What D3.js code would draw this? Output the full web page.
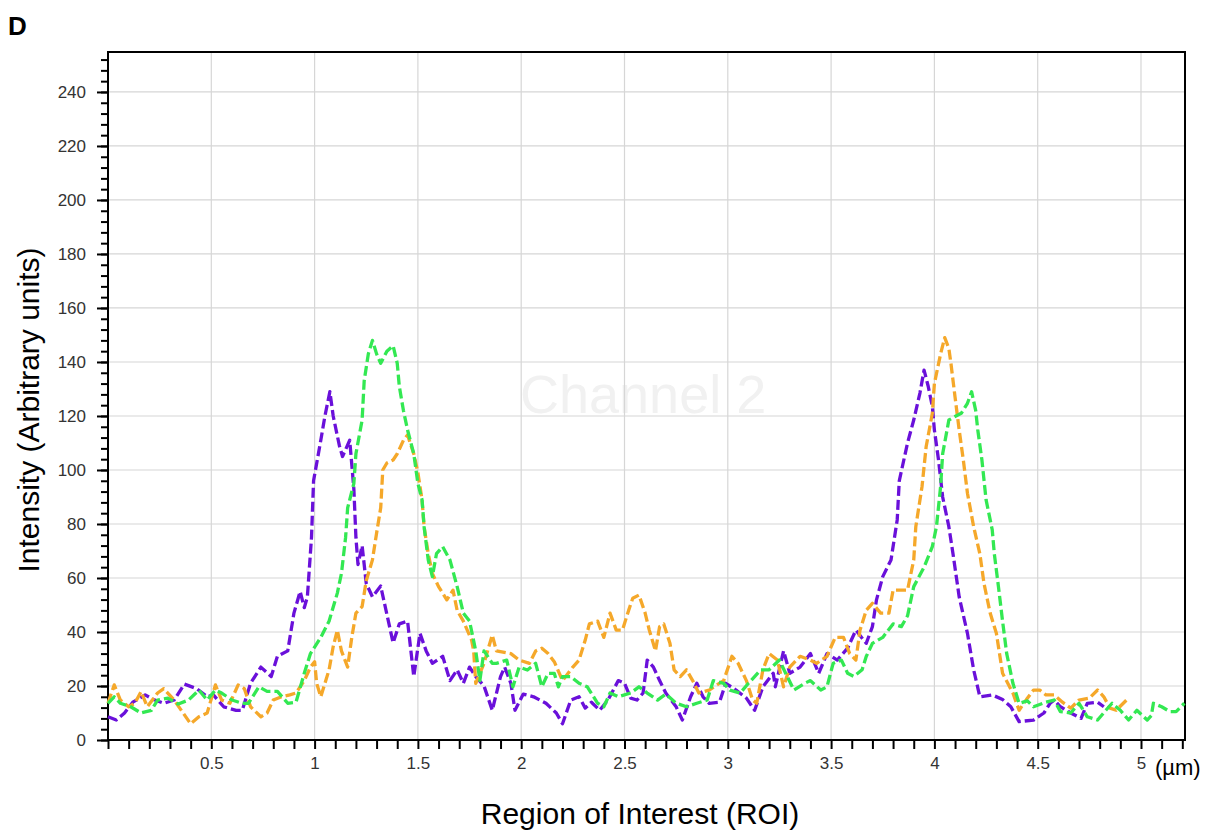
<!DOCTYPE html>
<html>
<head>
<meta charset="utf-8">
<script src="https://cdn.jsdelivr.net/npm/d3@7"></script>
<style>
  body { margin: 0; background: #fff; }
  svg { display: block; }
  .tick-label text { font-size: 17px; fill: #333; font-family: Arial, 'Liberation Sans', sans-serif; }
</style>
</head>
<body>
<svg id="viz"></svg>
<script>
// --- Data (x in µm, y in arbitrary intensity units) ---
const xMajorTicks = [0.5, 1, 1.5, 2, 2.5, 3, 3.5, 4, 4.5, 5];
const yMajorTicks = [0, 20, 40, 60, 80, 100, 120, 140, 160, 180, 200, 220, 240];

const purpleX = [0, 0.04, 0.08, 0.12, 0.18, 0.22, 0.27, 0.32, 0.37, 0.43, 0.48, 0.51, 0.56, 0.62, 0.65, 0.69, 0.74, 0.79, 0.82, 0.87, 0.9, 0.93, 0.95, 0.965, 0.985, 0.995, 1.03, 1.05, 1.074, 1.09, 1.12, 1.135, 1.17, 1.19, 1.2, 1.21, 1.23, 1.25, 1.28, 1.32, 1.36, 1.38, 1.41, 1.45, 1.48, 1.51, 1.54, 1.57, 1.62, 1.655, 1.69, 1.72, 1.75, 1.78, 1.82, 1.86, 1.9, 1.92, 1.95, 1.97, 2.01, 2.06, 2.12, 2.17, 2.2, 2.24, 2.28, 2.31, 2.34, 2.38, 2.42, 2.47, 2.5, 2.53, 2.56, 2.59, 2.61, 2.64, 2.67, 2.7, 2.75, 2.78, 2.82, 2.85, 2.88, 2.91, 2.96, 2.99, 3.04, 3.09, 3.13, 3.17, 3.22, 3.23, 3.27, 3.3, 3.35, 3.4, 3.44, 3.48, 3.53, 3.58, 3.62, 3.67, 3.7, 3.72, 3.75, 3.79, 3.82, 3.83, 3.87, 3.9, 3.93, 3.95, 3.97, 3.99, 4.0, 4.02, 4.04, 4.07, 4.09, 4.12, 4.16, 4.19, 4.22, 4.28, 4.33, 4.37, 4.41, 4.48, 4.53, 4.56, 4.58, 4.61, 4.66, 4.71, 4.74, 4.79, 4.82];
const purpleY = [8.6, 7.4, 10, 14, 16.7, 15, 13.6, 14.8, 20.7, 19, 16, 16.7, 12.3, 11, 11, 21, 27, 23.5, 31, 33, 47, 55, 49, 53, 75, 96, 111, 120, 129, 120, 109, 105, 111, 93, 75, 65, 72, 58, 53, 57, 43, 36, 43, 44, 23.5, 39.5, 33, 28.4, 31, 22, 26, 21, 27, 23.5, 20, 11, 23.5, 27, 21, 11, 17, 16, 13.6, 10, 6, 14.8, 16, 11.8, 14, 11, 14.8, 22, 21, 15.5, 14.8, 17.4, 29.6, 27, 22, 17.4, 12.3, 7.4, 16, 21, 16, 13.6, 14, 21, 18.5, 15.5, 11, 19.7, 24.7, 19.7, 33, 24.7, 27, 32, 24.7, 32, 29.6, 34, 40.7, 35.8, 42, 52, 60.5, 66.7, 81.5, 96, 110, 118.5, 128.5, 137, 131, 123.5, 114.8, 103.7, 90, 79, 69, 53, 39.5, 26, 16, 16.7, 15, 12.3, 6.8, 7.4, 10, 13.6, 14.8, 12.3, 10, 8, 13.6, 14, 12.3];

const orangeX = [0, 0.03, 0.06, 0.1, 0.13, 0.16, 0.19, 0.24, 0.27, 0.32, 0.37, 0.4, 0.44, 0.48, 0.52, 0.55, 0.59, 0.63, 0.66, 0.69, 0.74, 0.77, 0.8, 0.84, 0.88, 0.91, 0.95, 0.98, 1.0, 1.01, 1.03, 1.07, 1.09, 1.11, 1.13, 1.16, 1.18, 1.2, 1.23, 1.25, 1.28, 1.3, 1.32, 1.33, 1.35, 1.38, 1.4, 1.43, 1.45, 1.48, 1.5, 1.52, 1.53, 1.55, 1.57, 1.6, 1.64, 1.67, 1.69, 1.72, 1.76, 1.77, 1.78, 1.82, 1.86, 1.88, 1.95, 1.99, 2.04, 2.07, 2.1, 2.13, 2.16, 2.2, 2.25, 2.28, 2.31, 2.33, 2.37, 2.4, 2.43, 2.46, 2.49, 2.52, 2.54, 2.57, 2.6, 2.62, 2.65, 2.67, 2.69, 2.72, 2.74, 2.77, 2.8, 2.83, 2.86, 2.91, 2.98, 3.02, 3.05, 3.09, 3.12, 3.14, 3.17, 3.2, 3.24, 3.27, 3.3, 3.35, 3.4, 3.43, 3.48, 3.52, 3.56, 3.59, 3.62, 3.64, 3.67, 3.7, 3.74, 3.78, 3.8, 3.87, 3.9, 3.91, 3.94, 3.96, 3.99, 4.0, 4.03, 4.05, 4.07, 4.08, 4.1, 4.12, 4.14, 4.16, 4.19, 4.22, 4.24, 4.27, 4.3, 4.33, 4.38, 4.41, 4.45, 4.48, 4.51, 4.54, 4.58, 4.62, 4.66, 4.7, 4.75, 4.79, 4.82, 4.85, 4.88, 4.93];
const orangeY = [13.6, 20.4, 14.8, 12.3, 13.6, 17.9, 12.3, 17.4, 19, 14.8, 9.3, 6, 8.6, 10, 20.4, 14.8, 13.6, 20.4, 19, 12.3, 8.6, 10, 14.8, 16, 16.7, 17.4, 22, 27, 29, 21, 16, 26, 34.6, 40.7, 33, 27, 38, 47, 49.4, 59, 66.7, 76.6, 86, 100, 102.6, 103.7, 106, 111, 113, 106, 99, 89, 79, 69, 61.7, 56.8, 51.9, 55.5, 48, 44, 37, 33, 21, 28.4, 38.9, 33, 32, 29.6, 28.4, 33, 34, 32, 29, 22, 27, 29.6, 37, 43, 44, 38, 47, 40.7, 40.7, 48, 52.5, 53.7, 47, 40.7, 33, 42, 43, 35.8, 26, 23.5, 26, 22, 17.4, 18.5, 22, 31, 28.4, 22, 14.8, 13.6, 26, 32, 29.6, 19.7, 27, 31, 29.6, 28.4, 31, 38, 38, 32, 29.6, 40.7, 48, 50.6, 47, 47, 55.5, 55.5, 66.7, 79, 93.8, 108.6, 121, 132, 143, 149, 145, 139.5, 127, 114.8, 103.7, 91.4, 79, 69, 58, 47, 39.5, 24.7, 17.4, 11, 15.5, 18.5, 18.5, 16.7, 16.7, 14, 11.8, 14.8, 15.5, 18.5, 16, 11.8, 11, 14.8];

const greenX = [0, 0.03, 0.06, 0.11, 0.16, 0.21, 0.24, 0.29, 0.34, 0.39, 0.44, 0.48, 0.52, 0.55, 0.6, 0.65, 0.68, 0.73, 0.77, 0.82, 0.87, 0.91, 0.95, 0.98, 1.03, 1.07, 1.11, 1.13, 1.15, 1.16, 1.19, 1.2, 1.23, 1.24, 1.26, 1.28, 1.3, 1.32, 1.35, 1.38, 1.4, 1.41, 1.43, 1.45, 1.48, 1.5, 1.52, 1.53, 1.55, 1.57, 1.59, 1.62, 1.655, 1.69, 1.72, 1.75, 1.78, 1.8, 1.82, 1.86, 1.88, 1.93, 1.96, 1.99, 2.03, 2.07, 2.1, 2.13, 2.16, 2.18, 2.2, 2.24, 2.28, 2.32, 2.37, 2.4, 2.43, 2.47, 2.53, 2.57, 2.61, 2.66, 2.7, 2.75, 2.8, 2.85, 2.9, 2.93, 2.98, 3.01, 3.06, 3.1, 3.16, 3.2, 3.25, 3.28, 3.32, 3.37, 3.4, 3.45, 3.48, 3.51, 3.55, 3.58, 3.61, 3.65, 3.67, 3.7, 3.75, 3.8, 3.84, 3.87, 3.9, 3.95, 3.99, 4.01, 4.03, 4.04, 4.07, 4.1, 4.13, 4.16, 4.18, 4.2, 4.21, 4.23, 4.25, 4.28, 4.29, 4.31, 4.33, 4.35, 4.38, 4.41, 4.45, 4.48, 4.54, 4.58, 4.61, 4.66, 4.7, 4.74, 4.79, 4.83, 4.86, 4.9, 4.94, 4.98, 5.03, 5.05, 5.06, 5.1, 5.14, 5.17, 5.21];
const greenY = [13.6, 16, 13.6, 12.3, 10, 11, 14.8, 15.5, 13.3, 14.8, 18.5, 14.8, 18.5, 17.4, 14.8, 13.6, 13.6, 19.7, 18, 18, 13.6, 14, 24.7, 32, 38, 44, 54.4, 61.7, 75, 86, 95, 106, 118.5, 133, 143, 148, 143, 139.5, 144, 146, 139.5, 131, 122, 114.8, 106, 95, 89, 79, 66.7, 60.5, 69, 71.6, 66.7, 56.8, 47, 44, 33, 22, 33, 28.4, 28.4, 29.6, 19.7, 27, 25.9, 28.4, 19.7, 24.7, 24.7, 19.7, 23.5, 23.5, 21, 19.7, 13.6, 12.3, 17.4, 16, 17.4, 19.7, 17.4, 14.8, 17, 13.6, 12.3, 13.6, 14.8, 22, 21, 18.5, 17.4, 21, 26, 26, 29.6, 24.7, 18.5, 20.9, 22, 18.5, 19.7, 28.4, 29.6, 24.7, 23.5, 26, 30.9, 35.8, 38, 43, 42, 46, 56.8, 64, 71.6, 79, 93.8, 106, 118.5, 119.8, 121, 124.7, 129, 122, 114.8, 103.7, 89, 77.8, 69, 56.8, 44, 32, 21, 13.6, 14.5, 12.3, 14, 14.8, 10.5, 10, 13.6, 8.6, 7.4, 11, 13.6, 11, 7.4, 11, 7.4, 9, 13.6, 12.3, 10.5, 10.5, 13.6];

const seriesNames = ["purple", "orange", "green"];
const seriesColors = ["#6a10da", "#f5a82a", "#33e852"];

const width = 1214;
const height = 831;
const margin = { left: 108, top: 52, right: 1185, bottom: 740 };
const fontFamily = "Arial, 'Liberation Sans', sans-serif";

const svg = d3.select("#viz")
  .attr("width", width)
  .attr("height", height)
  .style("font-family", fontFamily);

const x = d3.scaleLinear().domain([0, 5.213]).range([margin.left, margin.right]);
const y = d3.scaleLinear().domain([0, 254.8]).range([margin.bottom, margin.top]);

// --- Faint watermark ---
svg.append("text")
  .attr("x", 520)
  .attr("y", 413)
  .attr("font-size", 54)
  .attr("fill", "#f1f1f1")
  .text("Channel 2");

// --- Grid ---
svg.append("g")
  .selectAll("line")
  .data(xMajorTicks)
  .join("line")
  .attr("x1", d => x(d)).attr("x2", d => x(d))
  .attr("y1", margin.top).attr("y2", margin.bottom)
  .attr("stroke", "#d6d6d6")
  .attr("stroke-width", 1.2);

svg.append("g")
  .selectAll("line")
  .data(yMajorTicks.filter(d => d > 0))
  .join("line")
  .attr("x1", margin.left).attr("x2", margin.right)
  .attr("y1", d => y(d)).attr("y2", d => y(d))
  .attr("stroke", "#d6d6d6")
  .attr("stroke-width", 1.2);

// --- Axes ---
const xMinor = d3.range(0, 53).map(i => i / 10);
const yMinor = d3.range(0, 64).map(i => i * 4);

const xAxis = svg.append("g")
  .attr("transform", `translate(0,${margin.bottom})`)
  .call(d3.axisBottom(x).tickValues(xMinor).tickSize(9).tickSizeOuter(0).tickFormat(""));
xAxis.select(".domain").remove();
xAxis.selectAll("line").attr("stroke", "#000").attr("stroke-width", 2);

const xLabels = svg.append("g")
  .attr("class", "tick-label")
  .attr("transform", `translate(0,${margin.bottom})`)
  .call(d3.axisBottom(x).tickValues(xMajorTicks).tickSize(0).tickPadding(17).tickFormat(d3.format("")));
xLabels.select(".domain").remove();

const yAxis = svg.append("g")
  .attr("transform", `translate(${margin.left},0)`)
  .call(d3.axisLeft(y).tickValues(yMinor).tickSize(7).tickSizeOuter(0).tickFormat(""));
yAxis.select(".domain").remove();
yAxis.selectAll("line").attr("stroke", "#000").attr("stroke-width", 2);

const yLabels = svg.append("g")
  .attr("class", "tick-label")
  .attr("transform", `translate(${margin.left},0)`)
  .call(d3.axisLeft(y).tickValues(yMajorTicks).tickSize(11).tickPadding(11).tickFormat(d3.format("")));
yLabels.select(".domain").remove();
yLabels.selectAll("line").attr("stroke", "#000").attr("stroke-width", 2);

// --- Plot frame ---
svg.append("rect")
  .attr("x", margin.left)
  .attr("y", margin.top)
  .attr("width", margin.right - margin.left)
  .attr("height", margin.bottom - margin.top)
  .attr("fill", "none")
  .attr("stroke", "#000")
  .attr("stroke-width", 2);

// --- Lines ---
const seriesData = [
  d3.zip(purpleX, purpleY),
  d3.zip(orangeX, orangeY),
  d3.zip(greenX, greenY)
];

const line = d3.line()
  .x(d => x(d[0]))
  .y(d => y(d[1]));

svg.append("g")
  .selectAll("path")
  .data(seriesData)
  .join("path")
  .attr("d", line)
  .attr("fill", "none")
  .attr("stroke", (d, i) => seriesColors[i])
  .attr("stroke-width", 3.3)
  .attr("stroke-dasharray", "10,4")
  .attr("stroke-linejoin", "round");

// --- Labels ---
svg.append("text")
  .attr("x", 1155)
  .attr("y", 775)
  .attr("font-size", 22)
  .attr("fill", "#000")
  .text("(µm)");

svg.append("text")
  .attr("x", 640)
  .attr("y", 824)
  .attr("text-anchor", "middle")
  .attr("font-size", 30)
  .attr("fill", "#000")
  .text("Region of Interest (ROI)");

svg.append("text")
  .attr("transform", "translate(39,410) rotate(-90)")
  .attr("text-anchor", "middle")
  .attr("font-size", 30)
  .attr("fill", "#000")
  .text("Intensity (Arbitrary units)");

svg.append("text")
  .attr("x", 8)
  .attr("y", 35)
  .attr("font-size", 26)
  .attr("font-weight", "bold")
  .attr("fill", "#000")
  .text("D");
</script>
</body>
</html>
